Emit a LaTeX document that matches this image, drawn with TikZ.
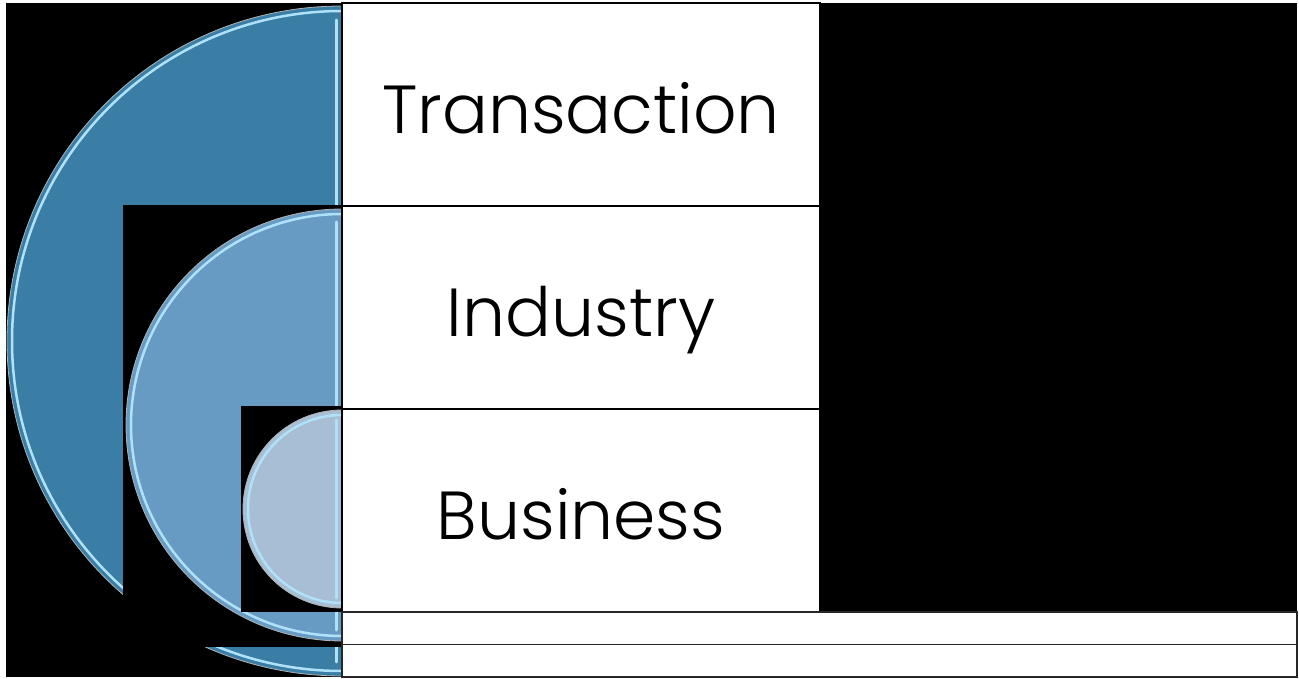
\documentclass[tikz,border=0pt]{standalone}
\usepackage{fontspec}
\setmainfont{Poppins Light}
\usetikzlibrary{positioning}

\definecolor{bigblue}{RGB}{58,126,166}
\definecolor{midblue}{RGB}{104,155,196}
\definecolor{smallblue}{RGB}{167,190,212}
\definecolor{rimblue}{RGB}{175,225,248}

\begin{document}
\begin{tikzpicture}[x=1pt,y=-1pt,
    box/.style={draw=black, fill=white, line width=1.3pt, outer sep=0pt, inner sep=0pt,
        minimum width=478pt, minimum height=203pt, text height=58pt, text depth=0pt,
        font=\fontsize{68}{80}\selectfont},
    strip/.style={draw=black!85, fill=white, line width=1.3pt, outer sep=0pt, inner sep=0pt,
        minimum width=955pt, minimum height=32.5pt},
    rim/.style={draw=rimblue, line width=2.5pt},
    shine/.style={draw=rimblue, line width=3pt, line cap=round}]

    % page and black backdrop
    \fill[white] (0,0) rectangle (1299,679);
    \fill[black] (6,3) rectangle (1297,677);

    % outer half disk
    \fill[bigblue, draw=gray!60, line width=0.8pt] (342,6) arc[start angle=270, end angle=90, radius=335] -- cycle;
    \draw[rim] (342,11) arc[start angle=270, end angle=90, radius=330];
    \draw[shine] (336,20) -- (336,662);

    % middle half disk on its own black patch
    \fill[black] (123,205) rectangle (342,647);
    \fill[midblue, draw=gray!60, line width=0.8pt] (342,209) arc[start angle=270, end angle=90, radius=216] -- cycle;
    \draw[rim] (342,214) arc[start angle=270, end angle=90, radius=211];
    \draw[shine] (336,222) -- (336,630);

    % inner half disk
    \fill[black] (241,406) rectangle (342,612);
    \fill[smallblue, draw=gray!60, line width=0.8pt] (342,410) arc[start angle=270, end angle=90, radius=99] -- cycle;
    \draw[rim] (342,415) arc[start angle=270, end angle=90, radius=94];
    \draw[shine] (336,420) -- (336,598);

    % labels
    \node[box, anchor=north west] (trans) at (342,3) {Transaction};
    \node[box, below=0pt of trans] (ind) {Industry};
    \node[box, below=0pt of ind] (bus) {Business};

    \node[strip, anchor=north west] (strip1) at (bus.south west) {};
    \node[strip, below=0pt of strip1] (strip2) {};
\end{tikzpicture}
\end{document}
